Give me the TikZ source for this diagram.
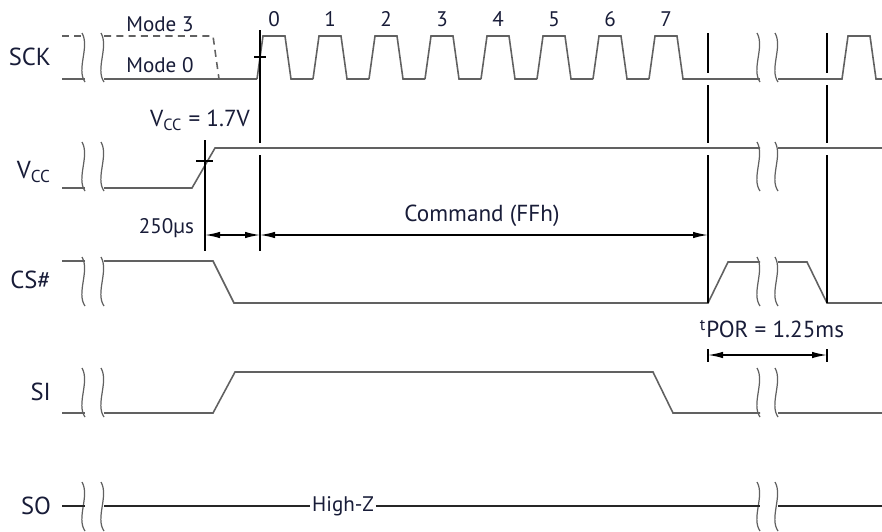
\documentclass[tikz,border=0pt]{standalone}
\usepackage{fontspec}
\setmainfont{PT Sans}
\usepackage{tikz}
\usetikzlibrary{arrows.meta, positioning}
\definecolor{txt}{RGB}{24,28,56}
\tikzstyle{sig}     = [black!62, line width=0.9pt]
\tikzstyle{guide}   = [black, line width=0.8pt]
\tikzstyle{dim}     = [black, line width=0.8pt, {Latex[length=3mm,width=1.3mm]}-{Latex[length=3mm,width=1.3mm]}]
\tikzstyle{brkline} = [black!62, line width=0.7pt]
\tikzset{every node/.style={align=center, text=txt, inner sep=1pt}}
\tikzset{brk/.pic={\draw[brkline] (0,0) .. controls (8,14) and (-6,36) .. (3,49);}}

\begin{document}
\begin{tikzpicture}[x=0.02cm, y=-0.02cm,
    lbl/.style={font=\fontsize{14}{16}\selectfont, anchor=east},
    note/.style={font=\fontsize{12}{14}\selectfont},
    big/.style={font=\fontsize{13.2}{15}\selectfont},
    bitno/.style={font=\fontsize{12}{14}\selectfont}
]
  \useasboundingbox (0,0) rectangle (882,531);

  % --- signal names ---
  \node[lbl] (nSCK) at (53,57)  {SCK};
  \node[lbl] (nVCC) at (53,172) {V\textsubscript{CC}};
  \node[lbl] (nCS)  at (53,280) {CS\#};
  \node[lbl] (nSI)  at (53,392) {SI};
  \node[lbl] (nSO)  at (53,506) {SO};

  % --- breaks (both sides, every row) ---
  \foreach \top in {33,142,257,368,482} {
    \pic at (82,\top)  {brk};
    \pic at (101,\top) {brk};
    \pic at (757,\top) {brk};
    \pic at (775,\top) {brk};
  }

  % --- SCK (row 1) ---
  \node[note] (mode3) at (160,24) {Mode 3};
  \node[note] (mode0) at (160,65) {Mode 0};
  \draw[sig, dash pattern=on 4pt off 3pt] (62,36) -- (83,36);
  \draw[sig, dash pattern=on 4pt off 3pt] (104,36) -- (213,36) -- (219,79);
  \draw[sig] (62,79) -- (85,79);
  \draw[sig] (104,79) -- (257,79);
  \foreach \k in {0,...,7} {
    \draw[sig] (257+56*\k,79) -- (263+56*\k,36) -- (285+56*\k,36) -- (291+56*\k,79) -- (313+56*\k,79);
    \node[bitno] (bit\k) at (274+56*\k,19) {\k};
  }
  \draw[sig] (683,79) -- (760,79);
  \draw[sig] (778,79) -- (842,79) -- (848,36) -- (870,36) -- (876,79) -- (882,79);

  % --- Vcc (row 2) ---
  \node[big, anchor=east] (vlvl) at (252,120) {V\textsubscript{CC} = 1.7V};
  \draw[sig] (62,188) -- (85,188);
  \draw[sig] (104,188) -- (192,188) -- (215,148) -- (760,148);
  \draw[sig] (778,148) -- (882,148);

  % --- CS# (row 3) ---
  \draw[sig] (62,261) -- (85,261);
  \draw[sig] (104,261) -- (213,261) -- (234,303) -- (708,303) -- (728,262) -- (760,262);
  \draw[sig] (778,262) -- (807,262) -- (827,303) -- (882,303);

  % --- SI (row 4) ---
  \draw[sig] (62,413) -- (85,413);
  \draw[sig] (104,413) -- (213,413) -- (235,372) -- (653,372) -- (673,413) -- (760,413);
  \draw[sig] (778,413) -- (882,413);

  % --- SO (row 5) ---
  \node[note] (highz) at (343,506) {High-Z};
  \draw[sig, black!85] (62,506) -- (85,506);
  \draw[sig, black!85] (104,506) -- (highz.west);
  \draw[sig, black!85] (highz.east) -- (760,506);
  \draw[sig, black!85] (778,506) -- (882,506);

  % --- guide lines and crossing ticks ---
  \draw[guide] (205,140) -- (205,251);
  \draw[guide] (260,30) -- (260,143);
  \draw[guide] (260,155) -- (260,251);
  \foreach \gx in {708,827} {
    \draw[guide] (\gx,33) -- (\gx,73);
    \draw[guide] (\gx,85) -- (\gx,143);
    \draw[guide] (\gx,155) -- (\gx,303);
    \draw[guide] (\gx,349) -- (\gx,362);
  }
  \draw[guide] (254,57) -- (266,57);
  \draw[guide] (196,161) -- (213,161);

  % --- timing ---
  \coordinate (aL) at (205,235);
  \coordinate (aM) at (260,235);
  \coordinate (aR) at (708,235);
  \coordinate (pL) at (708,355);
  \coordinate (pR) at (827,355);
  \node[note, anchor=east] (t250) at (196,228) {250µs};
  \node[big] (tcmd) at (482,216) {Command (FFh)};
  \node[big] (tpor) at (772,329) {\textsuperscript{t}POR = 1.25ms};
  \draw[dim] (aL) -- (aM);
  \draw[dim] (aM) -- (aR);
  \draw[dim] (pL) -- (pR);
\end{tikzpicture}
\end{document}
